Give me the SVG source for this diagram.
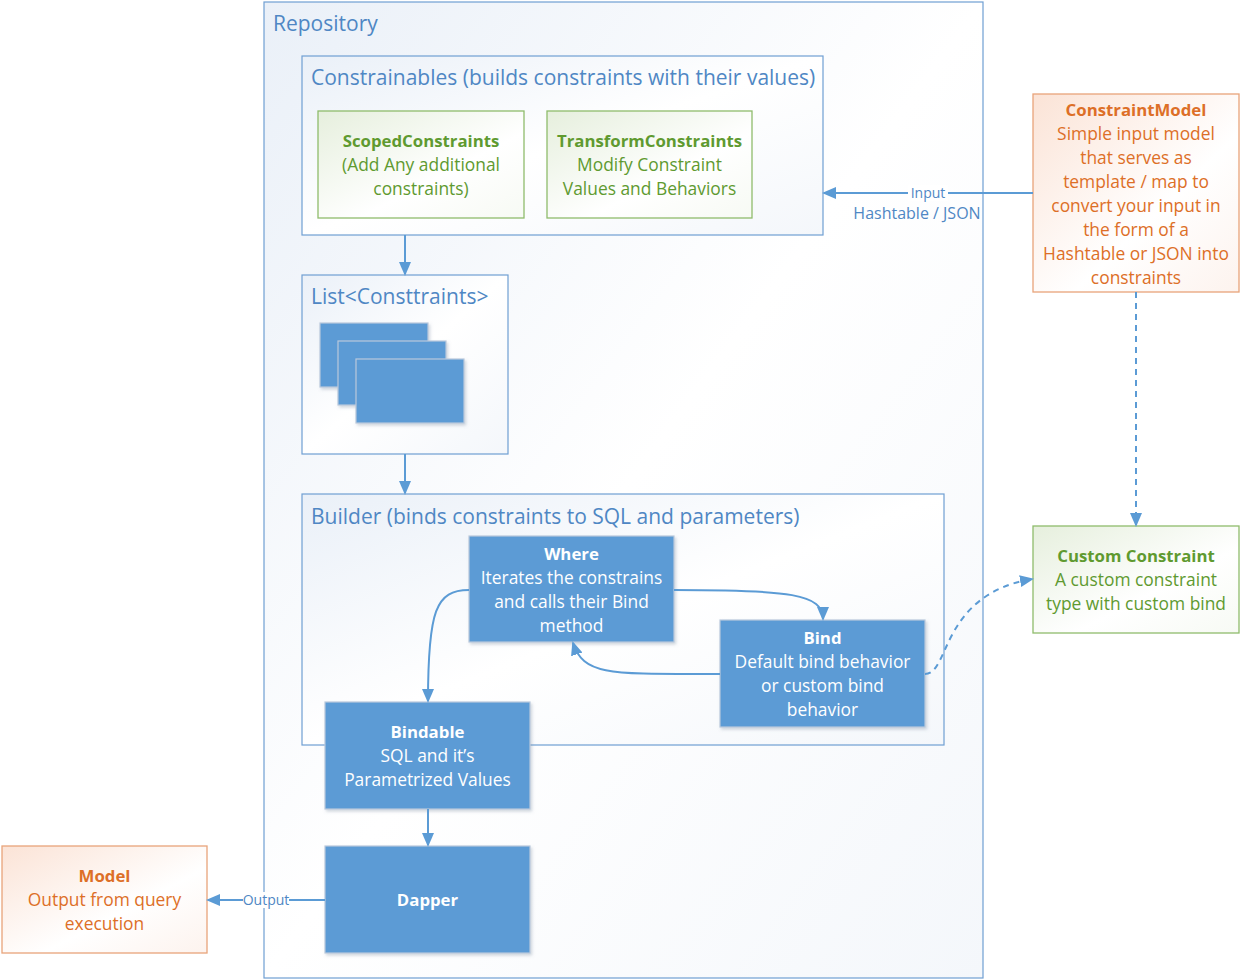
<svg xmlns="http://www.w3.org/2000/svg" width="1245" height="980" viewBox="0 0 1245 980">
<defs>
<linearGradient id="gc" x1="0" y1="0" x2="1" y2="1"><stop offset="0" stop-color="#eaf0f8"/><stop offset="0.5" stop-color="#ffffff"/><stop offset="1" stop-color="#f4f7fb"/></linearGradient>
<linearGradient id="gg" x1="0" y1="0" x2="1" y2="1"><stop offset="0" stop-color="#e6efdd"/><stop offset="0.6" stop-color="#ffffff"/><stop offset="1" stop-color="#f7faf4"/></linearGradient>
<linearGradient id="go" x1="0" y1="0" x2="1" y2="1"><stop offset="0" stop-color="#fbe3d6"/><stop offset="0.6" stop-color="#ffffff"/><stop offset="1" stop-color="#fdf3ee"/></linearGradient>
<filter id="sh" x="-10%" y="-10%" width="130%" height="130%"><feDropShadow dx="1.5" dy="2" stdDeviation="1.5" flood-color="#7a8ca0" flood-opacity="0.35"/></filter>
<marker id="ah" markerWidth="14" markerHeight="12" refX="12" refY="6" orient="auto" markerUnits="userSpaceOnUse"><path d="M0,0 L14,6 L0,12 Z" fill="#5B9BD5"/></marker>
</defs>
<style>
text{font-family:"Open Sans","Noto Sans","Liberation Sans",sans-serif;}
.cont{fill:url(#gc);stroke:#6f9fd3;stroke-width:1.2;}
.ttl{font-size:21px;fill:#4f87c4;}
.blue{fill:#5B9BD5;stroke:#b9c9dc;stroke-width:1.2;filter:url(#sh);}
.wt{fill:#ffffff;font-size:17.4px;text-anchor:middle;}
.green{fill:url(#gg);stroke:#8fbc6c;stroke-width:1.3;}
.gt{fill:#5f9a30;font-size:17.4px;text-anchor:middle;}
.orange{fill:url(#go);stroke:#e8a47a;stroke-width:1.3;}
.ot{fill:#dd6f27;font-size:17.4px;text-anchor:middle;}
.b{font-weight:bold;font-size:16.8px;}
.ln{fill:none;stroke:#5B9BD5;stroke-width:2;marker-end:url(#ah);}
.dash{stroke-dasharray:6,5;}
.lbl{font-size:14px;fill:#4f87c4;text-anchor:middle;}
</style>
<rect width="1245" height="980" fill="#ffffff"/>
<g id="repository">
<rect class="cont" x="264" y="2" width="719" height="976"/>
<text class="ttl" x="273" y="31">Repository</text>
</g>
<g id="constrainables">
<rect class="cont" x="302" y="56" width="521" height="179"/>
<text class="ttl" x="311" y="85">Constrainables (builds constraints with their values)</text>
</g>
<g id="scoped">
<rect class="green" x="318" y="111" width="206" height="107"/>
<text class="gt b" x="421" y="147">ScopedConstraints</text>
<text class="gt" x="421" y="171">(Add Any additional</text>
<text class="gt" x="421" y="195">constraints)</text>
</g>
<g id="transform">
<rect class="green" x="547" y="111" width="205" height="107"/>
<text class="gt b" x="649.5" y="147">TransformConstraints</text>
<text class="gt" x="649.5" y="171">Modify Constraint</text>
<text class="gt" x="649.5" y="195">Values and Behaviors</text>
</g>
<g id="list">
<rect class="cont" x="302" y="275" width="206" height="179"/>
<text class="ttl" x="311" y="304">List&lt;Consttraints&gt;</text>
<rect class="blue" x="320" y="323" width="108" height="64"/>
<rect class="blue" x="338" y="341" width="108" height="64"/>
<rect class="blue" x="356" y="359" width="108" height="64"/>
</g>
<g id="builder">
<rect class="cont" x="302" y="494" width="642" height="251"/>
<text class="ttl" x="311" y="524">Builder (binds constraints to SQL and parameters)</text>
</g>
<g id="where">
<rect class="blue" x="469" y="536" width="205" height="106"/>
<text class="wt b" x="571.5" y="560">Where</text>
<text class="wt" x="571.5" y="584">Iterates the constrains</text>
<text class="wt" x="571.5" y="608">and calls their Bind</text>
<text class="wt" x="571.5" y="632">method</text>
</g>
<g id="bind">
<rect class="blue" x="720" y="620" width="205" height="107"/>
<text class="wt b" x="822.5" y="644">Bind</text>
<text class="wt" x="822.5" y="668">Default bind behavior</text>
<text class="wt" x="822.5" y="692">or custom bind</text>
<text class="wt" x="822.5" y="716">behavior</text>
</g>
<g id="bindable">
<rect class="blue" x="325" y="702" width="205" height="107"/>
<text class="wt b" x="427.5" y="738">Bindable</text>
<text class="wt" x="427.5" y="762">SQL and it’s</text>
<text class="wt" x="427.5" y="786">Parametrized Values</text>
</g>
<g id="dapper">
<rect class="blue" x="325" y="846" width="205" height="107"/>
<text class="wt b" x="427.5" y="906">Dapper</text>
</g>
<g id="model">
<rect class="orange" x="2" y="846" width="205" height="107"/>
<text class="ot b" x="104.5" y="882">Model</text>
<text class="ot" x="104.5" y="906">Output from query</text>
<text class="ot" x="104.5" y="930">execution</text>
</g>
<g id="constraintmodel">
<rect class="orange" x="1033" y="94" width="206" height="198"/>
<text class="ot b" x="1136" y="116">ConstraintModel</text>
<text class="ot" x="1136" y="140">Simple input model</text>
<text class="ot" x="1136" y="164">that serves as</text>
<text class="ot" x="1136" y="188">template / map to</text>
<text class="ot" x="1136" y="212">convert your input in</text>
<text class="ot" x="1136" y="236">the form of a</text>
<text class="ot" x="1136" y="260">Hashtable or JSON into</text>
<text class="ot" x="1136" y="284">constraints</text>
</g>
<g id="customconstraint">
<rect class="green" x="1033" y="526" width="206" height="107"/>
<text class="gt b" x="1136" y="562">Custom Constraint</text>
<text class="gt" x="1136" y="586">A custom constraint</text>
<text class="gt" x="1136" y="610">type with custom bind</text>
</g>
<g id="connectors">
<path class="ln" d="M405,235 L405,274"/>
<path class="ln" d="M405,454 L405,493"/>
<path class="ln" d="M1033,193 L824,193"/>
<rect x="908" y="185" width="40" height="16" fill="#ffffff"/>
<text class="lbl" x="928" y="198">Input</text>
<text class="lbl" x="917" y="219" style="font-size:16px">Hashtable / JSON</text>
<path class="ln dash" d="M1136,292 L1136,525"/>
<path class="ln" d="M469,590 C436,590 428,610 428,701"/>
<path class="ln" d="M674,590 C790,590 823,594 823,619"/>
<path class="ln" d="M720,674 C610,674 584,676 573,643"/>
<path class="ln dash" d="M925,674 C950,674 940,595 1032,579"/>
<path class="ln" d="M428,809 L428,845"/>
<path class="ln" d="M325,900 L208,900"/>
<rect x="243" y="892" width="46" height="16" fill="#ffffff"/>
<text class="lbl" x="266" y="905">Output</text>
</g>
</svg>
